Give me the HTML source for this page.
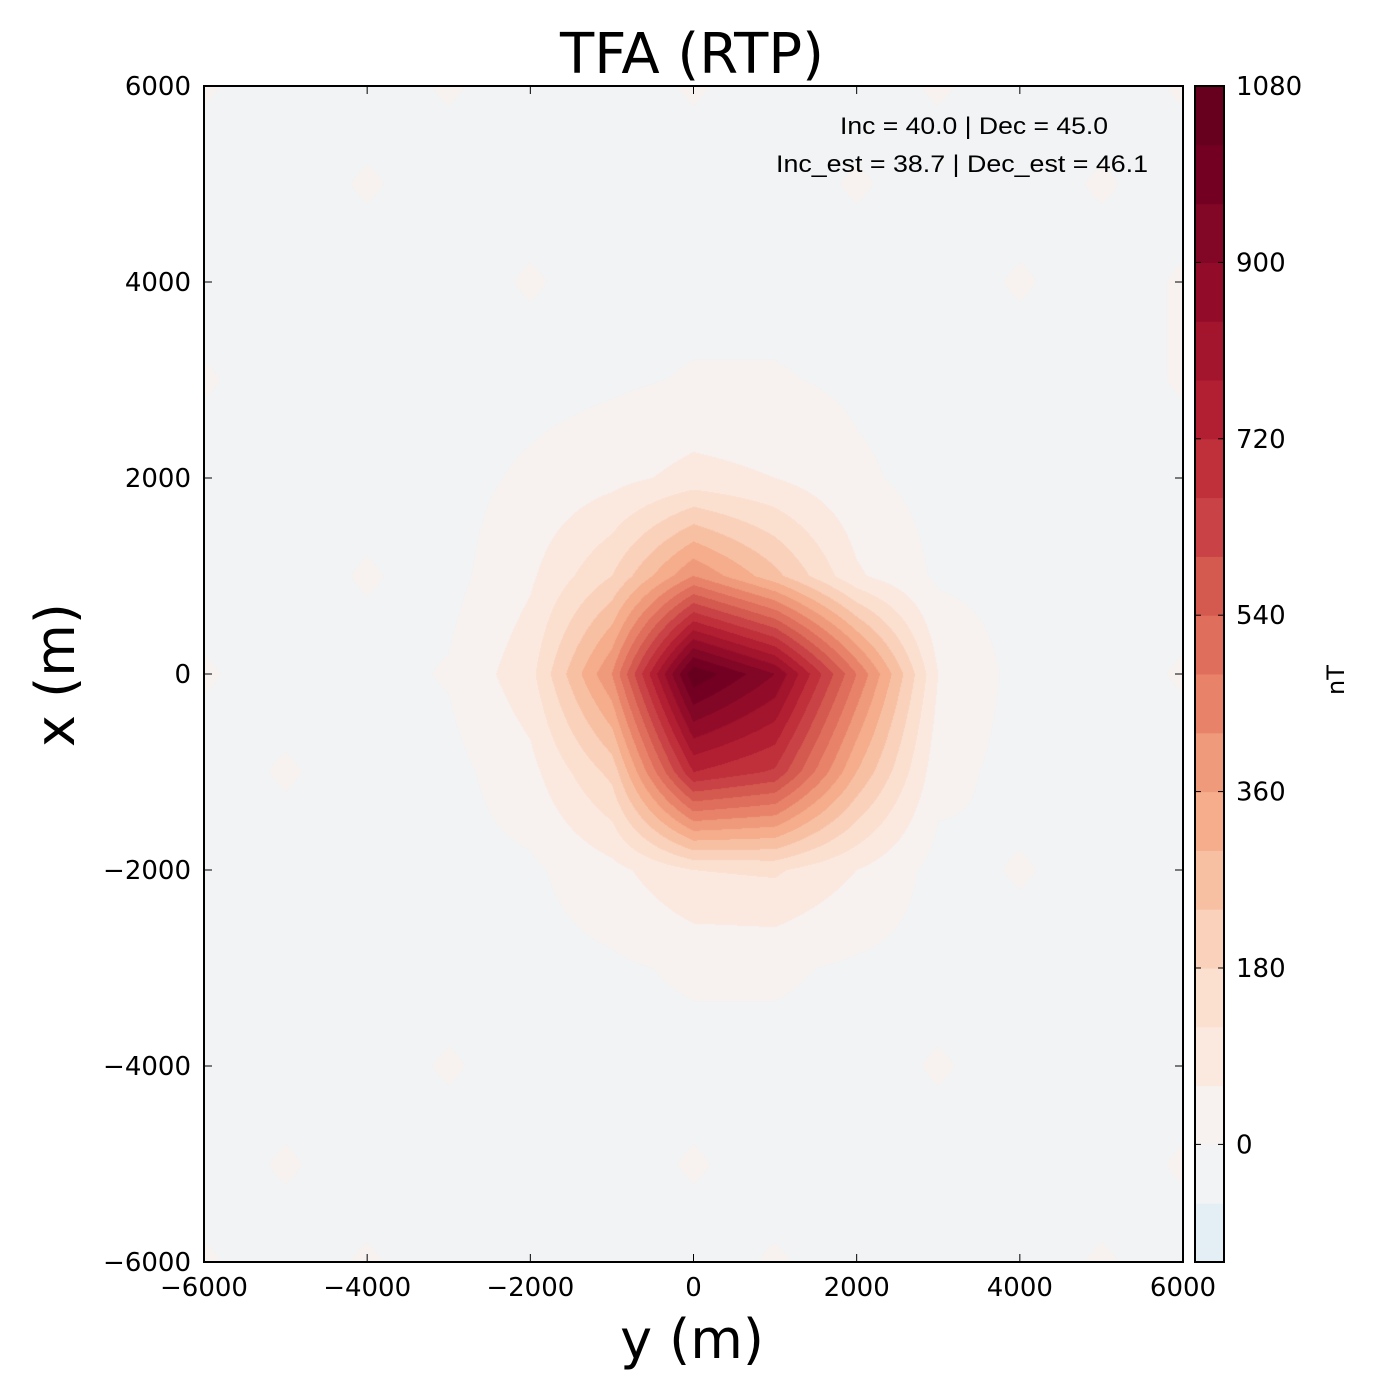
<!DOCTYPE html>
<html><head><meta charset="utf-8">
<style>
html,body{margin:0;padding:0;background:#fff;}
#wrap{position:relative;width:1400px;height:1400px;font-family:"DejaVu Sans","Liberation Sans",sans-serif;}
canvas{position:absolute;left:204px;top:86px;}
svg{position:absolute;left:0;top:0;}
</style></head>
<body>
<div id="wrap">
<canvas id="cv" width="979" height="1176"></canvas>
<svg id="sv" width="1400" height="1400"></svg>
</div>
<script>
// data arrays
const gridY = [-6000,-5000,-4000,-3000,-2000,-1000,0,1000,2000,3000,4000,5000,6000];
const gridX = [6000,5000,4000,3000,2000,1000,0,-1000,-2000,-3000,-4000,-5000,-6000];
const values = [
[5,-20,-20,5,-20,-20,5,-20,-20,5,-20,-20,5],
[-20,-20,5,-20,-20,-20,-20,-20,5,-20,-20,5,-20],
[-20,-20,-20,-20,5,-20,-20,-20,-20,-20,5,-20,5],
[5,-20,-20,-20,-20,-10,5,5,-10,-20,-20,-20,5],
[-20,-20,-20,-20,10,40,80,60,10,-20,-20,-20,-20],
[-20,-20,5,-20,50,180,420,260,70,-10,-20,-20,-20],
[5,-20,-20,5,100,420,1070,900,480,60,-20,-20,5],
[-20,5,-20,-20,40,200,720,650,300,20,-20,-20,-20],
[-20,-20,-20,-20,-10,40,120,130,60,-20,5,-20,-20],
[-20,-20,-20,-20,-20,-10,10,10,-10,-20,-20,-20,-20],
[-20,-20,-20,5,-20,-20,-20,-20,-20,5,-20,-20,-20],
[-20,5,-20,-20,-20,-20,5,-20,-20,-20,-20,-20,5],
[5,-20,5,-20,-20,-20,-20,5,-20,-20,-20,5,-20]
];
const levels = [-120,-60,0,60,120,180,240,300,360,420,480,540,600,660,720,780,840,900,960,1020,1080];
const bandColors = ["#e4eef5","#f1f3f4","#f7f2f0","#fbe9e0","#fbe0d0","#fad1bb","#f8c0a3","#f5ad8c","#ef9a7a","#e8836a","#df6e5c","#d4594f","#c94245","#bf303b","#b21e32","#a3142d","#920c29","#820626","#730022","#67001f"];
const xTicks = [-6000,-4000,-2000,0,2000,4000,6000];
const cbTicks = [0,180,360,540,720,900,1080];

const L=204,T=86,W=979,H=1176;
const sx = v => L + (v+6000)/12000*W;
const sy = v => T + (6000-v)/12000*H;
const cbY = v => T + (1080-v)/1200*H;

function hex(c){return [parseInt(c.substr(1,2),16),parseInt(c.substr(3,2),16),parseInt(c.substr(5,2),16)];}
const rgb = bandColors.map(hex);
const cv=document.getElementById('cv'),ctx=cv.getContext('2d');
const img=ctx.createImageData(W,H);
for(let py=0;py<H;py++){
  const xv = 6000 - (py+0.5)/H*12000;
  let fi=(gridX[0]-xv)/1000; let i=Math.min(Math.floor(fi),gridX.length-2); let ti=fi-i;
  for(let px=0;px<W;px++){
    const yv=-6000+(px+0.5)/W*12000;
    let fj=(yv-gridY[0])/1000; let j=Math.min(Math.floor(fj),gridY.length-2); let tj=fj-j;
    const v=values[i][j]*(1-ti)*(1-tj)+values[i][j+1]*(1-ti)*tj+values[i+1][j]*ti*(1-tj)+values[i+1][j+1]*ti*tj;
    let b=0; while(b<bandColors.length-1 && v>=levels[b+1]) b++;
    const c=rgb[b], k=(py*W+px)*4;
    img.data[k]=c[0];img.data[k+1]=c[1];img.data[k+2]=c[2];img.data[k+3]=255;
  }
}
ctx.putImageData(img,0,0);

const sv=document.getElementById('sv'),NS="http://www.w3.org/2000/svg";
function el(tag,attrs,txt){const e=document.createElementNS(NS,tag);for(const k in attrs)e.setAttribute(k,attrs[k]);if(txt!==undefined)e.textContent=txt;sv.appendChild(e);return e;}

bandColors.forEach((c,b)=>{
  const r=el('rect',{x:1195,y:cbY(levels[b+1]),width:29,height:cbY(levels[b])-cbY(levels[b+1])+0.5,fill:c});
  
  
});
const cbf=el('rect',{x:1195,y:T,width:29,height:H,fill:'none',stroke:'#000','stroke-width':2});


cbTicks.forEach(v=>{
  const y=cbY(v);
  el('line',{x1:1195,x2:1201,y1:y,y2:y,stroke:'#000','stroke-width':1});
  el('line',{x1:1218,x2:1224,y1:y,y2:y,stroke:'#000','stroke-width':1});
  const t=el('text',{x:1236,y:y+9,'font-size':26,fill:'#000'},String(v));
  
  
});
const cbl=el('text',{x:1344,y:680,'font-size':24,'text-anchor':'middle',transform:'rotate(-90 1344 680)'},'nT');



const fr=el('rect',{x:L,y:T,width:W,height:H,fill:'none',stroke:'#000','stroke-width':2});


xTicks.forEach(v=>{
  const x=sx(v), y=sy(v);
  el('line',{x1:x,x2:x,y1:T+H,y2:T+H-8,stroke:'#000','stroke-width':1});
  el('line',{x1:x,x2:x,y1:T,y2:T+8,stroke:'#000','stroke-width':1});
  el('line',{x1:L,x2:L+8,y1:y,y2:y,stroke:'#000','stroke-width':1});
  el('line',{x1:L+W,x2:L+W-8,y1:y,y2:y,stroke:'#000','stroke-width':1});
  const lab=v<0?'\u2212'+(-v):String(v);
  const tx=el('text',{x:x,y:T+H+34,'font-size':26,'text-anchor':'middle'},lab);
  
  
  const ty=el('text',{x:L-13,y:y+9,'font-size':26,'text-anchor':'end'},lab);
  
  
});
const ttl=el('text',{x:692,y:73,'font-size':56,'text-anchor':'middle'},'TFA (RTP)');


const xl=el('text',{x:692,y:1358,'font-size':54,'text-anchor':'middle'},'y (m)');


const yl=el('text',{x:74,y:675,'font-size':54,'text-anchor':'middle',transform:'rotate(-90 74 675)'},'x (m)');


const a1=el('text',{x:840,y:134,'font-size':24,textLength:268,lengthAdjust:'spacingAndGlyphs','font-family':'Liberation Sans, sans-serif'},'Inc = 40.0 | Dec = 45.0');


const a2=el('text',{x:776,y:172,'font-size':24,textLength:372,lengthAdjust:'spacingAndGlyphs','font-family':'Liberation Sans, sans-serif'},'Inc_est = 38.7 | Dec_est = 46.1');


</script>
</body></html>
